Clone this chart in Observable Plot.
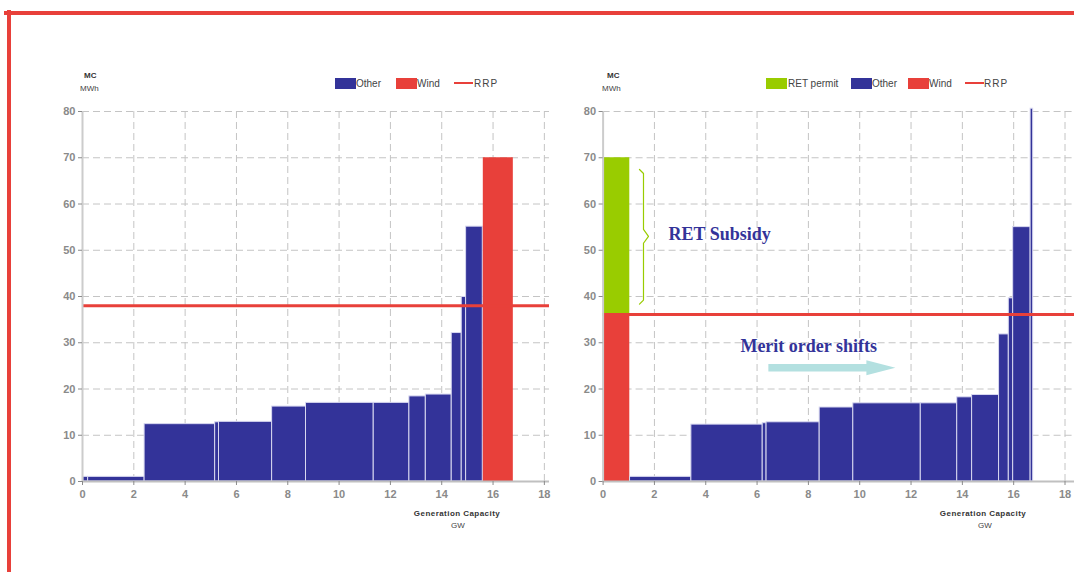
<!DOCTYPE html>
<html><head><meta charset="utf-8">
<script src="https://cdn.jsdelivr.net/npm/d3@7"></script>
<script src="https://cdn.jsdelivr.net/npm/@observablehq/plot@0.6"></script>
<style>
body{margin:0;background:#fff;font-family:"Liberation Sans",Arial,sans-serif;}
#page{position:relative;width:1074px;height:572px;overflow:hidden;background:#fff;}
.abs{position:absolute;}
.sw{position:absolute;width:21px;height:11px;top:78px;}
.ln{position:absolute;width:19px;height:2px;top:82px;background:#e8403a;}
.lt{position:absolute;font-size:10px;color:#444;line-height:11px;top:78px;white-space:nowrap;}
.mc{position:absolute;font-size:8px;font-weight:bold;color:#333;top:71px;}
.mwh{position:absolute;font-size:8px;color:#444;top:84px;}
.xl{position:absolute;font-size:8px;font-weight:bold;color:#333;top:509px;transform:translateX(-50%);white-space:nowrap;letter-spacing:0.45px;}
.gw{position:absolute;font-size:8px;color:#444;top:521px;transform:translateX(-50%);}
.chart{position:absolute;top:0;}
</style></head>
<body><div id="page"></div>
<script>
// ---- data ----
const xTicks = [0, 2, 4, 6, 8, 10, 12, 14, 16, 18];
const yTicks = [0, 10, 20, 30, 40, 50, 60, 70, 80];
const legendLeft = ["Other", "Wind", "RRP"];
const legendRight = ["RET permit", "Other", "Wind", "RRP"];

// Left chart: merit order before (capacity breakpoints, GW; marginal cost, $/MWh)
const leftOtherBreaks = [0.03, 0.22, 2.42, 5.17, 5.32, 7.39, 8.71, 11.35, 12.74, 13.38, 14.39, 14.78, 14.95, 15.6];
const leftOtherMC = [1, 1, 12.4, 12.8, 12.9, 16.2, 17.0, 17.0, 18.4, 18.8, 32.1, 39.9, 55.1];
const leftWindBreaks = [15.62, 16.79];
const leftWindMC = [70];
const leftRRP = [38.0];

// Right chart: merit order after RET permit
const rightOtherBreaks = [1.05, 3.44, 6.22, 6.37, 8.44, 9.75, 12.38, 13.8, 14.38, 15.43, 15.81, 15.98, 16.66, 16.76];
const rightOtherMC = [1, 12.3, 12.6, 12.8, 16.0, 16.9, 16.9, 18.2, 18.7, 31.8, 39.6, 55.0, 80.6];
const rightWindBreaks = [0.05, 1.04];
const rightWindMC = [36.1];
const rightRetTop = [70];
const rightRRP = [36.1];

// ---- helpers ----
const BLUE = "#333399", RED = "#e8403a", GREEN = "#99cc00", GRID = "#c4c4c4";
function steps(breaks, mc) {
  return mc.map((v, i) => ({x1: breaks[i], x2: breaks[i + 1], y1: 0, y2: v}));
}

function chart({width, marginLeft, marginRight, xMax, marks}) {
  return Plot.plot({
    width, height: 540, marginLeft, marginRight, marginTop: 111, marginBottom: 59,
    x: {domain: [0, xMax]},
    y: {domain: [0, 80]},
    style: {fontFamily: "Liberation Sans, Arial, sans-serif", fontSize: "11px", background: "transparent", overflow: "visible"},
    marks: [
      Plot.gridY(yTicks.slice(1), {stroke: GRID, strokeOpacity: 1, strokeDasharray: "7,4"}),
      Plot.ruleX(xTicks.slice(1), {y1: 0, y2: 80, stroke: GRID, strokeDasharray: "7,4"}),
      ...marks,
      Plot.ruleY([0], {stroke: "#c0c0c0", strokeWidth: 2}),
      Plot.ruleX([0], {y1: 0, y2: 80, stroke: "#cccccc", strokeWidth: 2}),
      Plot.axisX(xTicks, {tickSize: 4, tickPadding: 5, color: "#8a8a8a", fontWeight: "bold", label: null}),
      Plot.axisY(yTicks, {tickSize: 4, tickPadding: 3, color: "#8a8a8a", fontWeight: "bold", label: null})
    ]
  });
}

const page = document.getElementById("page");
function add(html) { page.insertAdjacentHTML("beforeend", html); }

// ---- left chart ----
const left = chart({
  width: 560, marginLeft: 82, marginRight: 11, xMax: 18.2,
  marks: [
    Plot.rectY(steps(leftOtherBreaks, leftOtherMC), {x1: "x1", x2: "x2", y1: "y1", y2: "y2", fill: BLUE, stroke: "#d8d8f0", strokeWidth: 1}),
    Plot.rectY(steps(leftWindBreaks, leftWindMC), {x1: "x1", x2: "x2", y1: "y1", y2: "y2", fill: RED}),
    Plot.ruleY(leftRRP, {stroke: RED, strokeWidth: 3})
  ]
});
left.classList.add("chart");
left.style.left = "0px";
page.appendChild(left);

// ---- right chart ----
const rightWind = steps(rightWindBreaks, rightWindMC);
const rightRet = rightWind.map((d, i) => ({x1: d.x1, x2: d.x2, y1: d.y2, y2: rightRetTop[i]}));
const brace = [[1.418, 67.46], [1.574, 66.59], [1.574, 54.53], [1.769, 53.02], [1.574, 51.51], [1.574, 39.22], [1.418, 38.36]];
const arrowShape = [[6.44, 23.8], [10.26, 23.8], [10.26, 23.0], [11.39, 24.6], [10.26, 26.2], [10.26, 25.4], [6.44, 25.4], [6.44, 23.8]];
const right = chart({
  width: 537, marginLeft: 65.6, marginRight: 0, xMax: 18.37,
  marks: [
    Plot.rectY(rightRet, {x1: "x1", x2: "x2", y1: "y1", y2: "y2", fill: GREEN}),
    Plot.rectY(rightWind, {x1: "x1", x2: "x2", y1: "y1", y2: "y2", fill: RED}),
    Plot.rectY(steps(rightOtherBreaks, rightOtherMC), {x1: "x1", x2: "x2", y1: "y1", y2: "y2", fill: BLUE, stroke: "#d8d8f0", strokeWidth: 1}),
    Plot.ruleY(rightRRP, {stroke: RED, strokeWidth: 3}),
    Plot.line(brace, {x: d => d[0], y: d => d[1], stroke: GREEN, strokeWidth: 1.2}),
    Plot.text(["RET Subsidy"], {x: [2.55], y: [53.4], text: d => d, textAnchor: "start", fontFamily: "Liberation Serif, serif", fontWeight: "bold", fontSize: 18, fill: BLUE}),
    Plot.text(["Merit order shifts"], {x: [5.35], y: [29.3], text: d => d, textAnchor: "start", fontFamily: "Liberation Serif, serif", fontWeight: "bold", fontSize: 18, fill: BLUE}),
    Plot.line(arrowShape, {x: d => d[0], y: d => d[1], fill: "#b3e0e0", stroke: "none"})
  ]
});
right.classList.add("chart");
right.style.left = "537px";
page.appendChild(right);

// ---- overlays: frame, legends, axis titles ----
add(`<div class="abs" style="left:4px;top:11px;width:1070px;height:4px;background:${RED}"></div>`);
add(`<div class="abs" style="left:7px;top:10px;width:4px;height:562px;background:${RED}"></div>`);

add(`<div class="mc" style="left:84px">MC</div><div class="mwh" style="left:80px">MWh</div>`);
add(`<div class="mc" style="left:607px">MC</div><div class="mwh" style="left:602px">MWh</div>`);

add(`<div class="sw" style="left:335px;background:${BLUE}"></div><div class="lt" style="left:356px">${legendLeft[0]}</div>`);
add(`<div class="sw" style="left:396px;background:${RED}"></div><div class="lt" style="left:417px">${legendLeft[1]}</div>`);
add(`<div class="ln" style="left:454px"></div><div class="lt" style="left:474px;letter-spacing:1px">${legendLeft[2]}</div>`);

add(`<div class="sw" style="left:766px;background:${GREEN}"></div><div class="lt" style="left:788px">${legendRight[0]}</div>`);
add(`<div class="sw" style="left:851px;background:${BLUE}"></div><div class="lt" style="left:872px">${legendRight[1]}</div>`);
add(`<div class="sw" style="left:908px;background:${RED}"></div><div class="lt" style="left:929px">${legendRight[2]}</div>`);
add(`<div class="ln" style="left:965px"></div><div class="lt" style="left:984px;letter-spacing:1px">${legendRight[3]}</div>`);

add(`<div class="xl" style="left:457px">Generation Capacity</div><div class="gw" style="left:458px">GW</div>`);
add(`<div class="xl" style="left:983px">Generation Capacity</div><div class="gw" style="left:985px">GW</div>`);
</script>
</body></html>
